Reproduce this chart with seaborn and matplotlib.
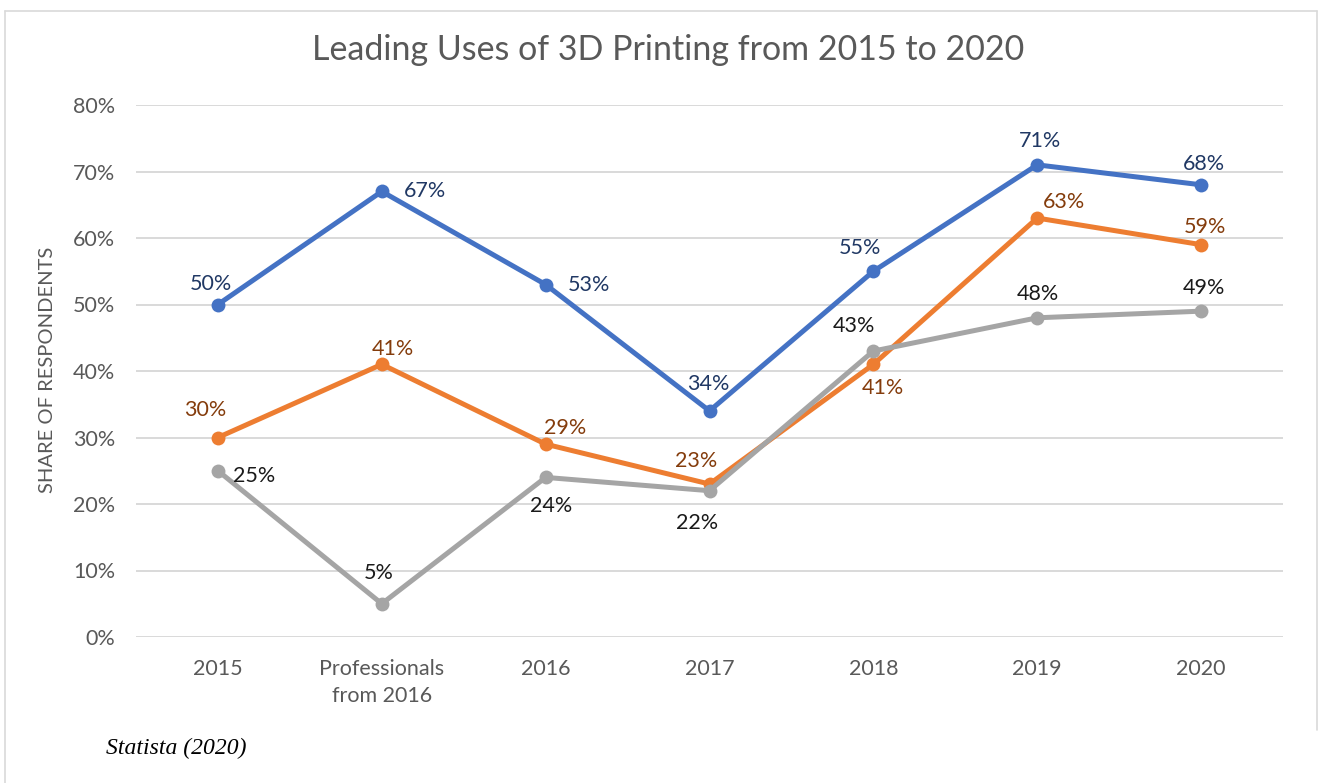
import matplotlib
matplotlib.use("Agg")
import matplotlib.pyplot as plt
import seaborn as sns
import pandas as pd
from matplotlib.lines import Line2D

# ---- data ----
categories = ["2015", "Professionals\nfrom 2016", "2016", "2017", "2018", "2019", "2020"]
series_names = ["Series 1", "Series 2", "Series 3"]
blue_values = [50, 67, 53, 34, 55, 71, 68]
orange_values = [30, 41, 29, 23, 41, 63, 59]
gray_values = [25, 5, 24, 22, 43, 48, 49]
y_ticks = [0, 10, 20, 30, 40, 50, 60, 70, 80]

# ---- styles ----
line_colors = ["#4472C4", "#ED7D31", "#A5A5A5"]
label_colors = ["#203864", "#843C0C", "#1A1A1A"]
# label offsets in pixels (dx, dy) relative to each point, dy positive = up
blue_offsets = [(-7, 21), (43, 0), (43, 0), (-1, 27), (-13, 23), (3, 24), (3, 21)]
orange_offsets = [(-13, 27), (11, 15), (19, 16), (-13, 23), (10, -24), (27, 16), (4, 18)]
gray_offsets = [(36, -5), (-3, 31), (5, -29), (-12, -32), (-19, 25), (1, 24), (3, 23)]

FONT = "Lato"
GREY_TEXT = "#595959"
TICK_SIZE = 15.5

sns.set_theme(style="white")
plt.rcParams["font.family"] = [FONT, "DejaVu Sans"]

records = []
for name, vals in zip(series_names, [blue_values, orange_values, gray_values]):
    for c, v in zip(categories, vals):
        records.append({"category": c, "value": v, "series": name})
df = pd.DataFrame(records)

fig = plt.figure(figsize=(13.21, 7.83), dpi=100)
ax = fig.add_axes([136 / 1321, 1 - 637 / 783, (1283 - 136) / 1321, (637 - 105) / 783])

sns.lineplot(data=df, x="category", y="value", hue="series", palette=line_colors,
             marker="o", markersize=10, markeredgewidth=0, linewidth=3.6,
             legend=False, ax=ax, sort=False)

ax.set_xlim(-0.5, len(categories) - 0.5)
ax.set_ylim(0, 80)
ax.set_yticks(y_ticks)
ax.set_yticklabels([f"{t}%" for t in y_ticks])
ax.set_xticks(range(len(categories)))
ax.set_xticklabels(categories, linespacing=1.45)
ax.grid(axis="y", color="#D9D9D9", linewidth=1.4)
ax.grid(axis="x", visible=False)
ax.set_axisbelow(True)
for s in ax.spines.values():
    s.set_visible(False)
ax.tick_params(axis="both", length=0, labelsize=TICK_SIZE, labelcolor=GREY_TEXT)
ax.tick_params(axis="y", pad=15)
ax.tick_params(axis="x", pad=16)
ax.set_xlabel("")
ax.set_ylabel("")

# data labels
for vals, offs, col in zip([blue_values, orange_values, gray_values],
                           [blue_offsets, orange_offsets, gray_offsets], label_colors):
    for i, (v, (dx, dy)) in enumerate(zip(vals, offs)):
        ax.annotate(f"{v}%", xy=(i, v), xytext=(dx, dy), textcoords="offset pixels",
                    ha="center", va="center", fontsize=TICK_SIZE, color=col, zorder=5)

# title, axis label, source
fig.text(668 / 1321, 1 - 50 / 783, "Leading Uses of 3D Printing from 2015 to 2020",
         ha="center", va="center", fontsize=24.5, color=GREY_TEXT)
fig.text(48 / 1321, 1 - 370 / 783, "SHARE OF RESPONDENTS", rotation=90,
         ha="center", va="center", fontsize=14.5, color=GREY_TEXT)
fig.text(106 / 1321, 1 - 748 / 783, "Statista (2020)", ha="left", va="center",
         fontsize=17, style="italic", family="Liberation Serif", color="black")

# chart border
bc = "#D9D9D9"
fig.add_artist(Line2D([5 / 1321, 1317 / 1321], [1 - 11 / 783, 1 - 11 / 783], color=bc, lw=1.2))
fig.add_artist(Line2D([1317 / 1321, 1317 / 1321], [1 - 11 / 783, 1 - 730 / 783], color=bc, lw=1.2))
fig.add_artist(Line2D([5 / 1321, 5 / 1321], [1 - 11 / 783, 0], color=bc, lw=1.2))

fig.savefig("out.png", dpi=100)
